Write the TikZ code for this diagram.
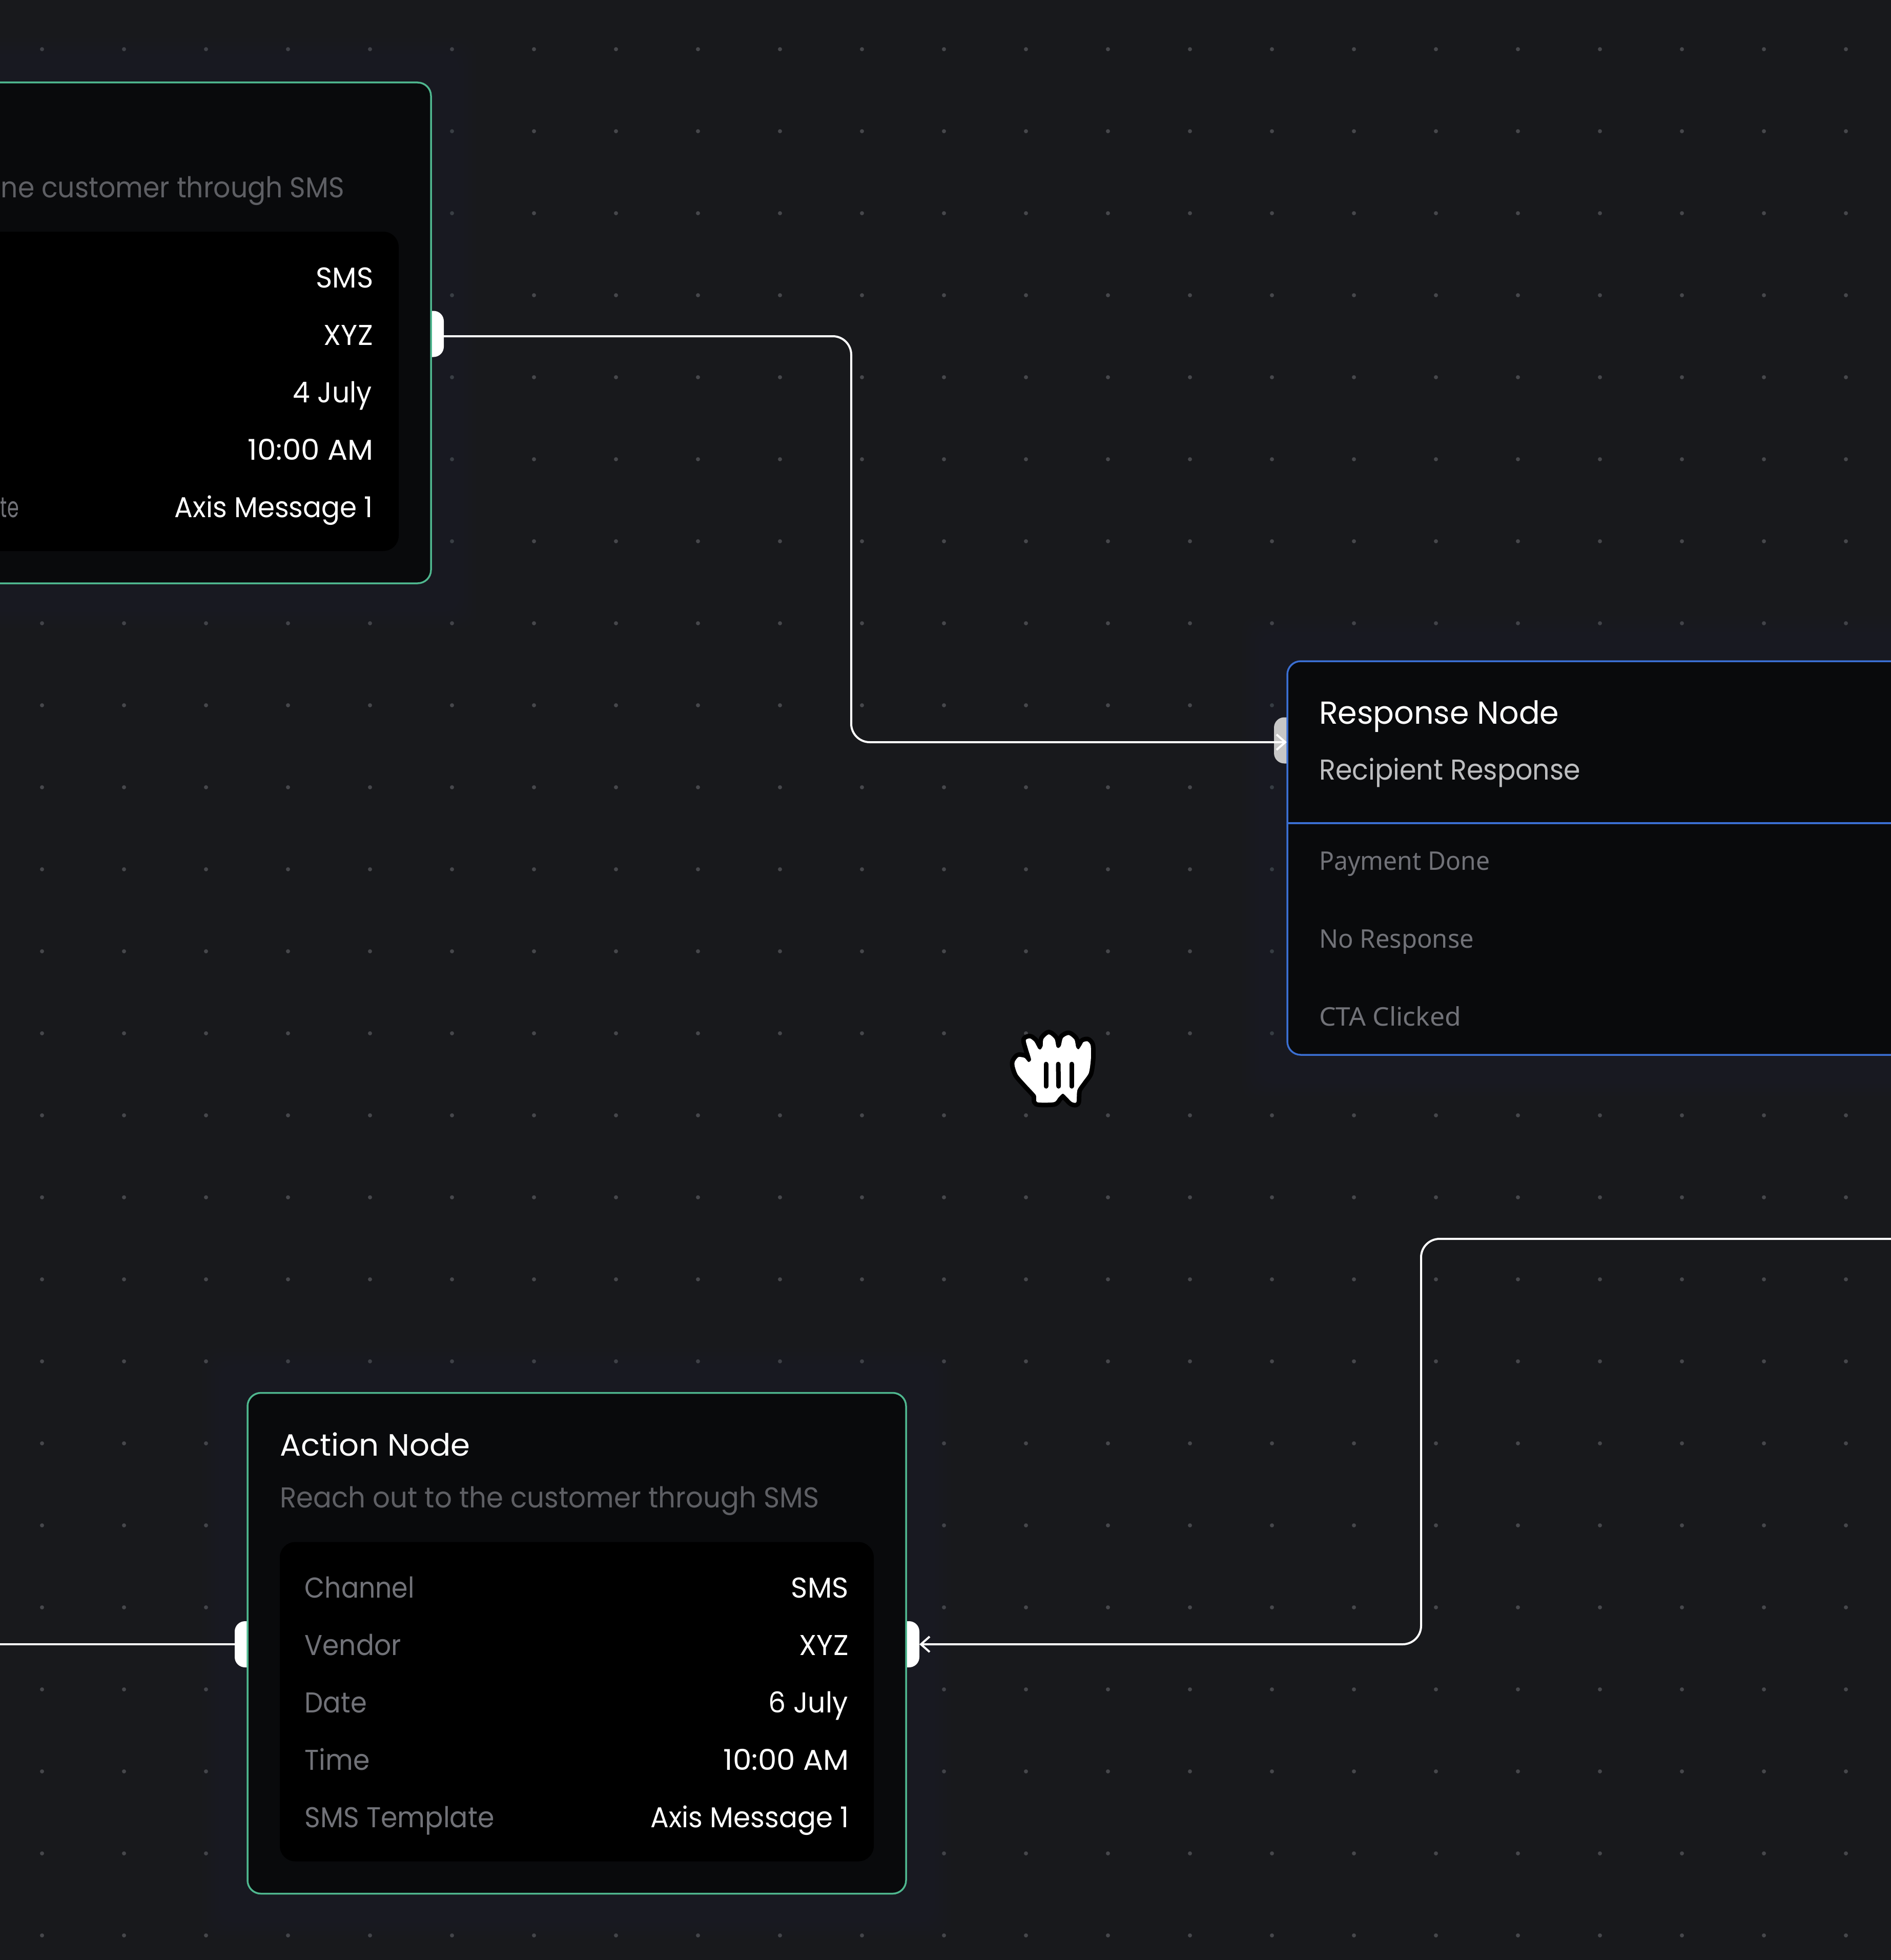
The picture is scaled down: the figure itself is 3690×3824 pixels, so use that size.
\documentclass[tikz,border=0pt]{standalone}
\usepackage{fontspec}
\setmainfont{Poppins}
\newfontfamily\rowfont{Noto Sans}
\usetikzlibrary{arrows.meta}
\definecolor{bgc}{HTML}{18191C}
\definecolor{dotc}{HTML}{46474B}
\definecolor{cardc}{HTML}{090A0C}
\definecolor{greenc}{HTML}{4FB78F}
\definecolor{bluec}{HTML}{3B6FD2}
\definecolor{glowc}{HTML}{1D2B38}
\definecolor{subc}{HTML}{5E5F64}
\definecolor{labc}{HTML}{717278}
\definecolor{recc}{HTML}{BDBEC0}
\newcommand{\fitw}[2]{\resizebox{#1pt}{\height}{#2}}
\newcommand{\glowbox}[4]{\foreach \g in {8,16,...,88}{\fill[glowc,opacity=.045,rounded corners=30pt] (#1-\g,#2-\g) rectangle (#3+\g,#4+\g);}}
\tikzset{
  x=1pt,y=-1pt,
  cardgreen/.style={draw=greenc,fill=cardc,line width=3.5pt,rounded corners=26pt,minimum width=1285pt,minimum height=977pt,inner sep=0pt,outer sep=0pt},
  cardblue/.style={draw=bluec,fill=cardc,line width=3.5pt,rounded corners=26pt,inner sep=0pt,outer sep=0pt},
  panelbox/.style={fill=black,rounded corners=30pt,minimum width=1159pt,minimum height=623pt,inner sep=0pt,outer sep=0pt},
  portw/.style={fill=white,rounded corners=20pt,minimum width=50pt,minimum height=90pt,inner sep=0pt,outer sep=0pt},
  portg/.style={fill=white!78!black,rounded corners=20pt,minimum width=50pt,minimum height=90pt,inner sep=0pt,outer sep=0pt},
  conn/.style={white,line width=4pt,rounded corners=36pt},
  connarrow/.style={conn,-{Straight Barb[length=17pt,width=30pt,line width=4pt]}},
  titletxt/.style={text=white,font=\fontsize{60}{70}\selectfont,inner sep=0pt,anchor=base west},
  subtxt/.style={text=subc,font=\fontsize{56}{66}\selectfont,inner sep=0pt},
  labtxt/.style={text=labc,font=\fontsize{56}{66}\selectfont,inner sep=0pt,anchor=base west},
  valtxt/.style={text=white,font=\fontsize{56}{66}\selectfont,inner sep=0pt,anchor=base east},
  rowtxt/.style={text=labc,font=\rowfont\fontsize{50}{60}\selectfont,inner sep=0pt,anchor=base west},
  rectxt/.style={text=recc,font=\fontsize{56}{66}\selectfont,inner sep=0pt,anchor=base west},
}
\begin{document}
\begin{tikzpicture}
\useasboundingbox (0,0) rectangle (3690,3824);
\clip (0,0) rectangle (3690,3824);
\fill[bgc] (0,0) rectangle (3690,3824);
% dot grid
\foreach \i in {0,...,22}{\foreach \j in {0,...,23}{\fill[dotc] (82+160*\i,96+160*\j) circle[radius=4pt];}}
% glows
\glowbox{-444}{162}{841}{1138}
\glowbox{483}{2718}{1768}{3695}
\glowbox{2512}{1290}{3900}{2058}
% ports (their inner half is hidden by the cards)
\node[portw] (p1) at (841,651.5) {};
\node[portg] (p2) at (2511,1444.5) {};
\node[portw] (p3) at (483,3208) {};
\node[portw] (p4) at (1769,3208) {};
% cards
\node[cardgreen] (topcard) at (198.5,649.5) {};
\node[panelbox] (toppanel) at (198.5,763.5) {};
\node[cardgreen] (botcard) at (1125.5,3206) {};
\node[panelbox] (botpanel) at (1125.5,3320) {};
\node[cardblue,minimum width=1388pt,minimum height=768pt] (respcard) at (3206,1674) {};
\draw[bluec,line width=3.5pt] (respcard.west |- 0,1606) -- (respcard.east |- 0,1606);
% top card text
\node[subtxt,anchor=base east] (t0) at (672,385) {\fitw{670}{ne customer through SMS}};
\node[valtxt] (t1) at (728.5,561) {\fitw{112}{SMS}};
\node[valtxt] (t2) at (728,673) {\fitw{96}{XYZ}};
\node[valtxt] (t3) at (726,785) {\fitw{154}{4 July}};
\node[valtxt] (t4) at (729,897) {\fitw{245}{10:00 AM}};
\node[valtxt] (t5) at (728,1009) {\fitw{387}{Axis Message 1}};
\node[labtxt,anchor=base east] (t6) at (37,1009) {\fitw{36}{te}};
% bottom card text
\node[titletxt] (b0) at (546,2840) {\fitw{371}{Action Node}};
\node[subtxt,anchor=base west] (b1) at (546,2941) {\fitw{1052}{Reach out to the customer through SMS}};
\node[labtxt] (b2) at (594.5,3117) {\fitw{214}{Channel}};
\node[labtxt] (b3) at (594.5,3229) {\fitw{188}{Vendor}};
\node[labtxt] (b4) at (594.5,3341) {\fitw{121}{Date}};
\node[labtxt] (b5) at (594.5,3453) {\fitw{127}{Time}};
\node[labtxt] (b6) at (594.5,3565) {\fitw{370}{SMS Template}};
\node[valtxt] (b7) at (1656,3117) {\fitw{112}{SMS}};
\node[valtxt] (b8) at (1656,3229) {\fitw{96}{XYZ}};
\node[valtxt] (b9) at (1655,3341) {\fitw{155}{6 July}};
\node[valtxt] (b10) at (1657,3453) {\fitw{245}{10:00 AM}};
\node[valtxt] (b11) at (1656.5,3565) {\fitw{387}{Axis Message 1}};
% response card text
\node[titletxt,font=\fontsize{62}{72}\selectfont] (r0) at (2574,1412) {\fitw{468}{Response Node}};
\node[rectxt] (r1) at (2574,1521) {\fitw{510}{Recipient Response}};
\node[rowtxt] (r2) at (2574,1697) {\fitw{333}{Payment Done}};
\node[rowtxt] (r3) at (2574,1849) {\fitw{302}{No Response}};
\node[rowtxt] (r4) at (2574,2001) {\fitw{277}{CTA Clicked}};
% connectors
\coordinate (c1) at (1661,656);
\coordinate (c2) at (1661,1448);
\coordinate (c3) at (2511,1448);
\coordinate (c4) at (3700,2417);
\coordinate (c5) at (2773,2417);
\coordinate (c6) at (2773,3208);
\coordinate (c7) at (-10,3208);
\coordinate (c0) at (865,656);
\draw[connarrow] (c0) -- (c1) -- (c2) -- (c3);
\draw[connarrow] (c4) -- (c5) -- (c6) -- (p4.east);
\draw[conn] (c7) -- (p3.west);
% grabbing hand cursor
\begin{scope}[shift={(1900,1950)},x=0.33333pt,y=-0.33333pt]
\def\handpath{plot[smooth cycle,tension=.42] coordinates {
 (240,365) (262,337) (298,342) (320,366) (336,352) (318,290) (305,238) (330,228) (356,248) (378,288) (392,292) (404,272) (408,232) (440,204) (474,232) (484,276) (496,284) (510,272) (522,226) (556,208) (590,235) (600,280) (614,292) (630,270) (642,250) (666,245) (685,270) (686,350) (674,430) (640,480) (607,530) (601,601) (575,600) (548,574) (522,551) (496,574) (470,601) (372,601) (364,560) (310,500) (258,440) (240,390)}}
\draw[black,fill=black,line width=18pt,line join=round] \handpath;
\fill[white] \handpath;
\draw[black,line width=9pt,line cap=round] (423,378) -- (423,508);
\draw[black,line width=9pt,line cap=round] (495,378) -- (497,508);
\draw[black,line width=9pt,line cap=round] (573,378) -- (573,508);
\end{scope}
\end{tikzpicture}
\end{document}
